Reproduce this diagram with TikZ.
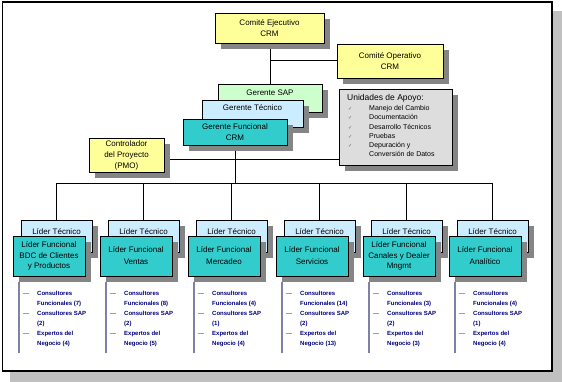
\documentclass[tikz,border=0pt]{standalone}
\usepackage{fontspec}
\setmainfont{Liberation Sans}
\newfontfamily\chkfont{DejaVu Sans}
\usetikzlibrary{shadows}
\definecolor{yel}{HTML}{FFFF99}
\definecolor{grn}{HTML}{CCFFCC}
\definecolor{lblue}{HTML}{CCECFF}
\definecolor{tealbox}{HTML}{33CCCC}
\definecolor{unig}{HTML}{DDDDDD}
\definecolor{shd}{HTML}{858585}
\definecolor{frsh}{HTML}{C0C0C0}
\definecolor{navytext}{HTML}{000080}
\definecolor{barc}{HTML}{8080A8}
\pgfdeclarelayer{back}
\pgfdeclarelayer{lines}
\pgfsetlayers{back,lines,main}
\begin{document}
\begin{tikzpicture}[x=1pt,y=-1pt,
  box/.style={draw=black, line width=0.8pt, inner sep=0pt,
    font=\fontsize{8}{10.5}\selectfont,
    drop shadow={shadow xshift=6pt, shadow yshift=-6pt, fill=shd, opacity=1}},
  conn/.style={draw=black, line width=0.9pt},
  lt/.style={box, fill=lblue, minimum width=71pt, text height=14pt, text depth=18pt},
  lf/.style={box, fill=tealbox, minimum width=72pt, minimum height=40pt, align=center},
  listtxt/.style={anchor=base west, inner sep=0pt, align=left, text=navytext,
    font=\fontsize{6}{10}\selectfont\bfseries},
  dashtxt/.style={anchor=base west, inner sep=0pt, text=navytext,
    font=\fontsize{6}{10}\selectfont},
  listbar/.style={draw=barc, line width=1.6pt},
  unitxt/.style={anchor=base west, inner sep=0pt, font=\fontsize{7}{9}\selectfont},
  chk/.style={anchor=base west, inner sep=0pt, text=black!60, font=\chkfont\fontsize{5}{6}\selectfont}
]
\useasboundingbox (0,0) rectangle (562,382);
% frame
\begin{pgfonlayer}{back}
  \fill[frsh] (10,11) rectangle (562,382);
  \draw[line width=1.5pt, fill=white] (2.5,2) rectangle (552,371);
\end{pgfonlayer}

% top boxes
\node[box, fill=yel, minimum width=109pt, minimum height=30pt, align=center] (ejec) at (269.5,28) {Comité Ejecutivo\\CRM};
\node[box, fill=yel, minimum width=106pt, minimum height=34pt, align=center] (oper) at (390,61) {Comité Operativo\\CRM};
\node[box, fill=grn, minimum width=104pt, text height=12pt, text depth=16pt] (gsap) at (270,98) {Gerente SAP};
\node[box, fill=lblue, minimum width=101pt, text height=11pt, text depth=16pt] (gtec) at (252.5,113.5) {Gerente Técnico};
\node[box, fill=tealbox, minimum width=104pt, minimum height=26pt, align=center] (gfc) at (235,132) {Gerente Funcional\\CRM};
\node[box, fill=yel, minimum width=75pt, minimum height=34pt, align=center, font=\fontsize{8}{11}\selectfont] (ctrl) at (126.5,155) {Controlador\\del Proyecto\\(PMO)};
\node[box, fill=unig, minimum width=113pt, minimum height=76pt] (unid) at (395.5,127) {};

% Unidades de Apoyo contents
\node[unitxt, font=\fontsize{8.5}{10}\selectfont] (uh) at (347,101) {Unidades de Apoyo:};
\foreach \j/\yy/\t in {1/110.5/{Manejo del Cambio}, 2/119.8/{Documentación}, 3/129.1/{Desarrollo Técnicos}, 4/138.4/{Pruebas}, 5/147.7/{Depuración y}}{
  \node[chk] (c\j) at (348,\yy) {✓};
  \node[unitxt] (u\j) at (369,\yy) {\t};
}
\node[unitxt] (u6) at (369,157) {Conversión de Datos};

% coordinates for connectors
\coordinate (hop) at (270,60);
\coordinate (hpmo) at (235,159);
\coordinate (bus) at (235,183);

% bottom columns
\foreach \i/\lx/\txt in {
  1/13/{Líder Funcional\\BDC de Clientes\\y Productos},
  2/100/{Líder Funcional\\[1.5pt]Ventas},
  3/188/{Líder Funcional\\[1.5pt]Mercadeo},
  4/276/{Líder Funcional\\[1.5pt]Servicios},
  5/363/{Líder Funcional\\Canales y Dealer\\Mngmt},
  6/449/{Líder Funcional\\[1.5pt]Analítico}}{
  \node[lt] (lt\i) at (\lx+43.5,236) {Líder Técnico};
  \node[lf] (lf\i) at (\lx+36,256) {\txt};
}

% lists
\foreach \i/\lx/\fa/\sa/\na in {1/13/7/2/4, 2/100/8/2/5, 3/188/4/1/4, 4/276/14/2/13, 5/363/3/2/3, 6/449/4/1/4}{
  \draw[listbar] (\lx+6,282) -- (\lx+6,353);
  \node[dashtxt] (da\i) at (\lx+10,295) {—};
  \node[listtxt] (la\i) at (\lx+24,305) {Consultores\\Funcionales (\fa)};
  \node[dashtxt] (db\i) at (\lx+10,315) {—};
  \node[listtxt] (lb\i) at (\lx+24,325) {Consultores SAP\\(\sa)};
  \node[dashtxt] (dc\i) at (\lx+10,335) {—};
  \node[listtxt] (lc\i) at (\lx+24,345) {Expertos del\\Negocio (\na)};
}

% connectors
\begin{pgfonlayer}{lines}
  \draw[conn] (ejec.south -| gsap.north) -- (gsap.north);
  \draw[conn] (hop) -- (hop -| oper.west);
  \draw[conn] (gfc.south) -- (bus);
  \draw[conn] (hpmo -| ctrl.east) -- (hpmo -| unid.west);
  \draw[conn] (bus -| lt1.north) -- (bus -| lt6.north);
  \foreach \i in {1,...,6}{
    \draw[conn] (bus -| lt\i.north) -- (lt\i.north);
  }
\end{pgfonlayer}
\end{tikzpicture}
\end{document}
